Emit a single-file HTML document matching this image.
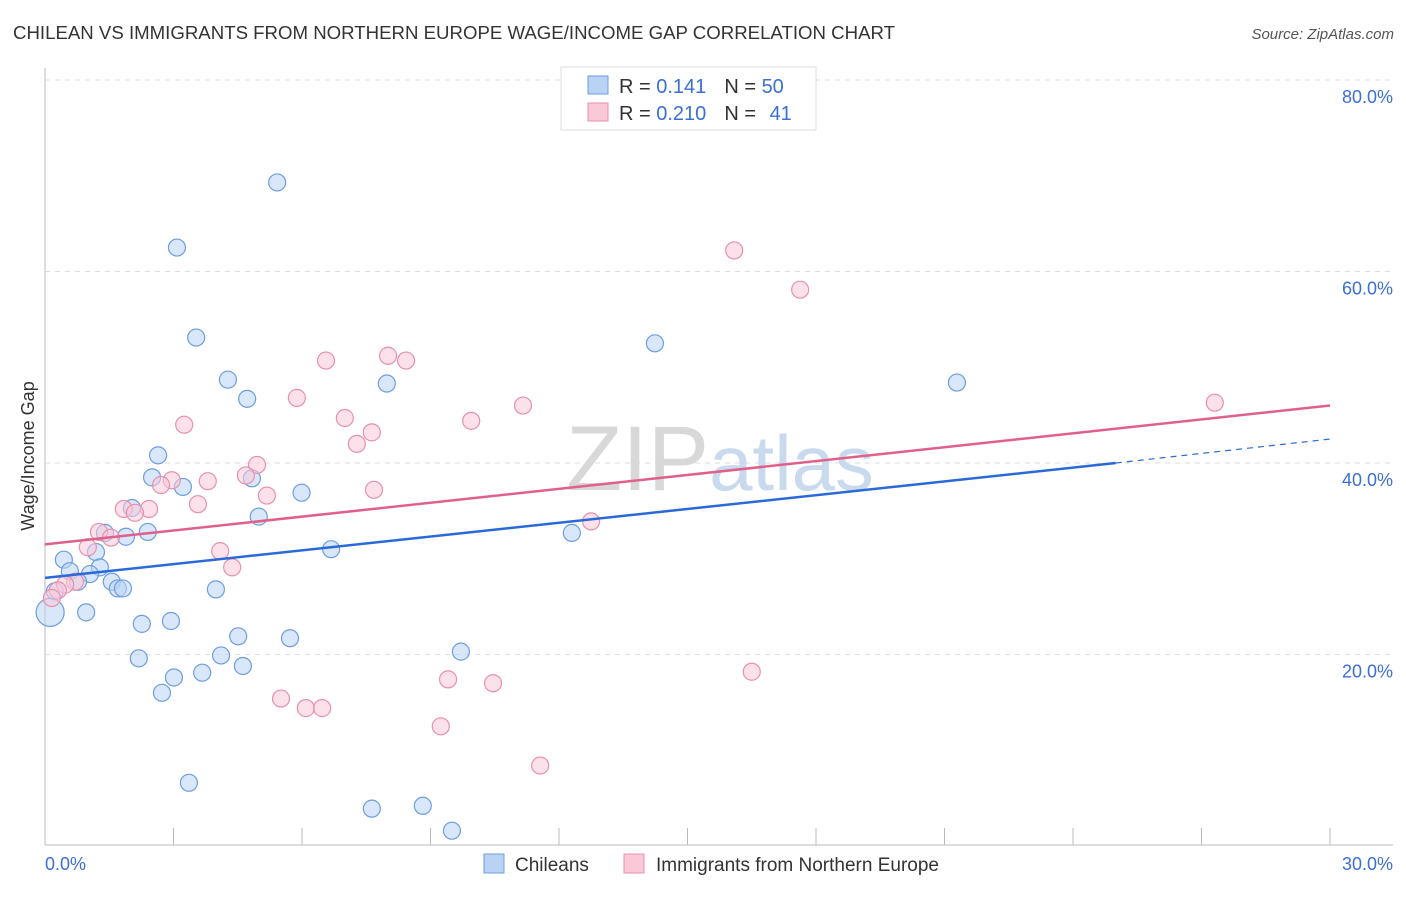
<!DOCTYPE html>
<html><head><meta charset="utf-8"><style>
body{margin:0;background:#fff;font-family:"Liberation Sans",sans-serif}
svg text{font-family:"Liberation Sans",sans-serif}
</style></head><body>
<svg width="1406" height="892" xmlns="http://www.w3.org/2000/svg">
<text x="13" y="39" font-size="18" fill="#333" textLength="882" lengthAdjust="spacingAndGlyphs">CHILEAN VS IMMIGRANTS FROM NORTHERN EUROPE WAGE/INCOME GAP CORRELATION CHART</text>
<text x="1394" y="39" font-size="15" fill="#555" font-style="italic" text-anchor="end">Source: ZipAtlas.com</text>
<g id="grid"></g>
<text x="720" y="490" font-size="92" fill="#dde3ea" text-anchor="middle" font-family="Liberation Serif"><tspan fill="#d8d8d8">ZIP</tspan><tspan fill="#c9d9ee" font-family="Liberation Sans" font-size="78">atlas</tspan></text>
<text transform="translate(34,456) rotate(-90)" font-size="18" fill="#333" text-anchor="middle">Wage/Income Gap</text>
<text x="45" y="870" font-size="18" fill="#3b6fd4">0.0%</text>
<text x="1393" y="870" font-size="18" fill="#3b6fd4" text-anchor="end">30.0%</text>
<g id="marks"></g>
<g>
<rect x="561" y="67" width="255" height="63" fill="#fff" stroke="#ddd"/>
<rect x="588" y="76" width="20" height="18" fill="#b9d3f5" stroke="#6e9de0"/>
<rect x="588" y="103" width="20" height="18" fill="#f9c9d8" stroke="#e890ac"/>
<text x="619" y="93" font-size="20" fill="#333">R = <tspan fill="#3b6fd4">0.141</tspan><tspan dx="18">N = </tspan><tspan fill="#3b6fd4">50</tspan></text>
<text x="619" y="120" font-size="20" fill="#333">R = <tspan fill="#3b6fd4">0.210</tspan><tspan dx="18">N = </tspan><tspan fill="#3b6fd4" dx="8">41</tspan></text>
</g>
<g>
<rect x="484" y="854" width="20" height="19" fill="#b9d3f5" stroke="#6e9de0"/>
<text x="515" y="871" font-size="19" fill="#333">Chileans</text>
<rect x="624" y="854" width="20" height="19" fill="#f9c9d8" stroke="#e890ac"/>
<text x="656" y="871" font-size="19" fill="#333">Immigrants from Northern Europe</text>
</g>
</svg>
<script>
const yTicks=[20,40,60,80];
const yTickLabels=["20.0%","40.0%","60.0%","80.0%"];
const xTicks=[0,3,6,9,12,15,18,21,24,27,30];
const blueX=[5.42,3.08,3.53,4.27,4.72,7.98,14.24,21.29,2.64,2.50,3.22,4.83,5.99,2.03,4.99,2.40,1.40,1.89,6.68,12.30,1.19,0.44,0.58,1.28,1.05,0.77,1.56,1.70,1.82,0.23,3.99,0.12,0.96,2.26,2.94,4.51,5.72,2.19,4.11,9.71,4.62,3.01,3.67,2.73,3.36,7.63,8.82,9.50];
const blueY=[69.3,62.5,53.1,48.7,46.7,48.3,52.5,48.4,40.8,38.5,37.5,38.4,36.9,35.3,34.4,32.8,32.7,32.3,31.0,32.7,30.7,29.9,28.7,29.1,28.4,27.6,27.6,26.9,26.9,26.6,26.8,24.4,24.4,23.2,23.5,21.9,21.7,19.6,19.9,20.3,18.8,17.6,18.1,16.0,6.6,3.9,4.2,1.6];
const pinkX=[16.09,17.63,27.31,6.56,8.01,8.43,5.88,11.16,7.00,9.95,3.25,7.63,7.28,4.95,2.96,3.80,4.69,2.71,7.68,5.18,3.57,2.43,1.84,2.10,12.75,1.26,1.54,1.00,4.09,4.37,0.70,0.47,0.30,0.16,9.41,10.46,16.50,5.51,6.09,6.47,9.24,11.56];
const pinkY=[62.2,58.1,46.3,50.7,51.2,50.7,46.8,46.0,44.7,44.4,44.0,43.2,42.0,39.8,38.2,38.1,38.7,37.7,37.2,36.6,35.7,35.2,35.2,34.8,33.9,32.8,32.2,31.2,30.8,29.1,27.6,27.3,26.7,25.9,17.4,17.0,18.2,15.4,14.4,14.4,12.5,8.4];
const blueTrend=[28.0,40.0,42.5];
const blueTrendX=[0,25,30];
const pinkTrend=[31.5,46.0];
const pinkTrendX=[0,30];
const NS="http://www.w3.org/2000/svg";
const X=v=>45+v/30*1285, Y=v=>846-v*9.575;
const grid=document.getElementById('grid'), marks=document.getElementById('marks');
function mk(tag,attrs,parent){const e=document.createElementNS(NS,tag);for(const k in attrs)e.setAttribute(k,attrs[k]);parent.appendChild(e);return e;}
let l=mk('line',{x1:45,y1:68,x2:45,y2:845,stroke:'#bbb'},grid);


l=mk('line',{x1:45,y1:845,x2:1393,y2:845,stroke:'#bbb'},grid);


yTicks.forEach((v,i)=>{
 const g=mk('line',{x1:45,y1:Y(v),x2:1393,y2:Y(v),stroke:'#ddd','stroke-dasharray':'5,5'},grid);
 
 
 const t=mk('text',{x:1393,y:Y(v)+23,'font-size':18,fill:'#3b6fd4','text-anchor':'end'},grid);
 t.textContent=yTickLabels[i];
 
 
});
xTicks.forEach(v=>{
 const t=mk('line',{x1:X(v),y1:828,x2:X(v),y2:845,stroke:'#bbb'},grid);
 
 
});
function pts(xs,ys,fill,stroke,name){
 xs.forEach((x,i)=>{
  const c=mk('circle',{cx:X(x),cy:Y(ys[i]),r:(x<0.15?14:8.5),fill:fill,'fill-opacity':0.55,stroke:stroke,'stroke-width':1.2},marks);
  
  
 });
}
pts(blueX,blueY,'#b9d3f5','#6e9de0','chileans-point');
pts(pinkX,pinkY,'#f9c9d8','#e890ac','northern-europe-point');
let t=mk('line',{x1:X(blueTrendX[0]),y1:Y(blueTrend[0]),x2:X(blueTrendX[1]),y2:Y(blueTrend[1]),stroke:'#2a6ad8','stroke-width':2.5},marks);


t=mk('line',{x1:X(blueTrendX[1]),y1:Y(blueTrend[1]),x2:X(blueTrendX[2]),y2:Y(blueTrend[2]),stroke:'#2a6ad8','stroke-width':1.2,'stroke-dasharray':'6,5'},marks);


t=mk('line',{x1:X(pinkTrendX[0]),y1:Y(pinkTrend[0]),x2:X(pinkTrendX[1]),y2:Y(pinkTrend[1]),stroke:'#e0608a','stroke-width':2.5},marks);


</script>
</body></html>
